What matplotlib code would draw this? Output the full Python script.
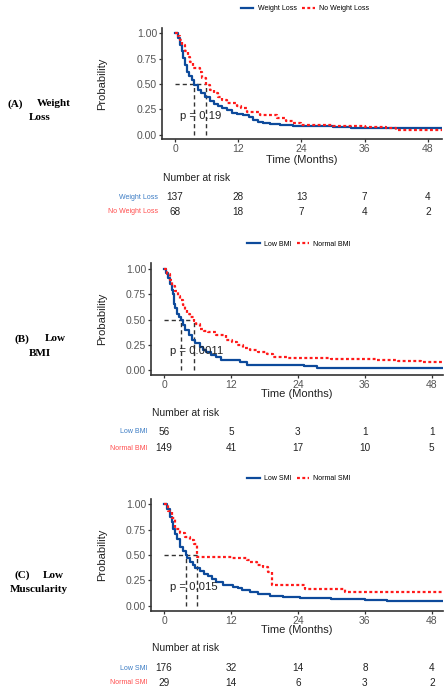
import matplotlib
matplotlib.use("Agg")
import matplotlib.pyplot as plt
from matplotlib.lines import Line2D
from matplotlib.transforms import blended_transform_factory

plt.rcParams['font.family'] = ['Liberation Sans', 'DejaVu Sans']

# ---- data ----
time_ticks = [0, 12, 24, 36, 48]

# (A) weight loss
a_groups = ["Weight Loss", "No Weight Loss"]
a_t1 = [0, 0.5, 0.95, 1.3, 1.6, 1.9, 2.2, 2.7, 3.2, 3.7, 4.4, 5.0, 5.7, 6.6, 7.4, 8.2, 9.0,
        9.8, 10.8, 11.8, 13.0, 14.0, 14.9, 15.8, 16.8, 18.0, 19.9, 22.5, 24.0, 27, 30, 33.5, 50.7]
a_s1 = [1.0, 0.95, 0.885, 0.82, 0.754, 0.69, 0.62, 0.58, 0.54, 0.49, 0.44, 0.41, 0.377, 0.33,
        0.30, 0.28, 0.26, 0.246, 0.22, 0.21, 0.197, 0.18, 0.148, 0.13, 0.115, 0.11, 0.098,
        0.092, 0.09, 0.085, 0.08, 0.065, 0.065]
a_t2 = [0, 0.5, 0.95, 1.4, 1.9, 2.4, 2.8, 3.5, 4.7, 5.2, 5.8, 6.6, 7.4, 8.2, 9.0, 9.8, 11.7,
        12.6, 13.6, 16.1, 19.3, 21.0, 22.5, 24, 30, 36, 40, 42, 50.7]
a_s2 = [1.0, 0.97, 0.934, 0.88, 0.82, 0.77, 0.72, 0.656, 0.62, 0.56, 0.49, 0.44, 0.41, 0.377,
        0.34, 0.31, 0.28, 0.26, 0.23, 0.197, 0.164, 0.14, 0.115, 0.10, 0.09, 0.08, 0.065, 0.05, 0.05]
a_medians = [3.7, 5.8]
a_pval = "p = 0.19"
a_risk1 = [137, 28, 13, 7, 4]
a_risk2 = [68, 18, 7, 4, 2]

# (B) low BMI
b_groups = ["Low BMI", "Normal BMI"]
b_t1 = [0, 0.4, 0.8, 1.1, 1.4, 1.6, 1.8, 2.0, 2.3, 2.6, 3.0, 3.4, 3.8, 4.5, 5.0, 5.6, 6.4,
        7.0, 7.6, 8.5, 9.4, 10.3, 13.6, 14.8, 25.0, 27.4, 50]
b_s1 = [1.0, 0.96, 0.91, 0.85, 0.79, 0.75, 0.66, 0.62, 0.56, 0.53, 0.5, 0.45, 0.40, 0.35,
        0.30, 0.27, 0.23, 0.20, 0.18, 0.15, 0.13, 0.10, 0.08, 0.055, 0.04, 0.02, 0.02]
b_t2 = [0, 0.5, 1.1, 1.5, 2.0, 2.5, 2.9, 3.4, 3.8, 4.2, 4.7, 5.4, 5.8, 6.4, 7.1, 7.9, 9.4,
        11.2, 12.1, 13.0, 14.2, 15.4, 16.9, 18.4, 19.5, 22, 30, 38, 42, 46, 50]
b_s2 = [1.0, 0.95, 0.89, 0.83, 0.78, 0.73, 0.69, 0.65, 0.60, 0.56, 0.53, 0.49, 0.46, 0.41,
        0.39, 0.38, 0.35, 0.30, 0.28, 0.25, 0.22, 0.20, 0.18, 0.16, 0.13, 0.12, 0.11, 0.10,
        0.09, 0.08, 0.08]
b_medians = [3.0, 5.4]
b_pval = "p = 0.0011"
b_risk1 = [56, 5, 3, 1, 1]
b_risk2 = [149, 41, 17, 10, 5]

# (C) low muscularity
c_groups = ["Low SMI", "Normal SMI"]
c_t1 = [0, 0.5, 1.1, 1.4, 1.7, 2.0, 2.3, 2.9, 3.4, 3.9, 4.2, 4.7, 5.2, 5.6, 6.4, 7.1, 7.9,
        8.6, 9.4, 10.6, 12.4, 13.2, 13.9, 15.4, 16.9, 19.0, 21.4, 24.4, 27, 30, 33, 36, 40, 50]
c_s1 = [1.0, 0.95, 0.876, 0.82, 0.76, 0.71, 0.66, 0.58, 0.54, 0.50, 0.47, 0.435, 0.40, 0.37,
        0.34, 0.315, 0.29, 0.26, 0.23, 0.206, 0.19, 0.175, 0.157, 0.134, 0.114, 0.10, 0.092,
        0.082, 0.078, 0.07, 0.065, 0.06, 0.05, 0.05]
c_t2 = [0, 0.8, 1.4, 2.0, 2.9, 3.8, 4.7, 5.3, 5.85, 11.5, 12.1, 14.8, 15.4, 16.6, 17.8, 18.7,
        19.3, 25.2, 32.5, 50]
c_s2 = [1.0, 0.93, 0.86, 0.76, 0.72, 0.68, 0.647, 0.61, 0.48, 0.48, 0.467, 0.45, 0.435, 0.40,
        0.385, 0.33, 0.21, 0.17, 0.14, 0.14]
c_medians = [3.9, 5.85]
c_pval = "p = 0.015"
c_risk1 = [176, 32, 14, 8, 4]
c_risk2 = [29, 14, 6, 3, 2]

panel_labels = [["(A)", "Weight", "Loss"], ["(B)", "Low", "BMI"], ["(C)", "Low", "Muscularity"]]

# ---- layout in pixels (reference is 448 x 695) ----
W, H = 448, 695
BLUE = "#0D4A9B"
RED = "#FF1A1A"
BLUE_TXT = "#3C7CC4"
RED_TXT = "#FF4D4D"

layout = [
    dict(box=(162, 28, 442, 139), xlim=(-2.47, 50.7), ylim=(-0.04, 1.05), leg=(305, 9),
         xlab=160, nar=178, rows=(197, 212), lab_x=(7, 37, 29), lab_y=(104, 118)),
    dict(box=(151, 263, 443, 375), xlim=(-2.33, 50.0), ylim=(-0.046, 1.06), leg=(299, 244),
         xlab=394, nar=413, rows=(432, 448), lab_x=(14, 45, 29), lab_y=(339, 354)),
    dict(box=(151, 499, 443, 611), xlim=(-2.33, 50.0), ylim=(-0.05, 1.05), leg=(299, 479),
         xlab=630, nar=648, rows=(668, 683), lab_x=(14, 43, 10), lab_y=(575, 589)),
]

panels = [
    (a_groups, a_t1, a_s1, a_t2, a_s2, a_medians, a_pval, a_risk1, a_risk2),
    (b_groups, b_t1, b_s1, b_t2, b_s2, b_medians, b_pval, b_risk1, b_risk2),
    (c_groups, c_t1, c_s1, c_t2, c_s2, c_medians, c_pval, c_risk1, c_risk2),
]


def fx(px):
    return px / W


def fy(py):
    return 1 - py / H


fig = plt.figure(figsize=(W / 100, H / 100), dpi=100)

for i, (groups, t1, s1, t2, s2, meds, pval, risk1, risk2) in enumerate(panels):
    lay = layout[i]
    l, t, r, b = lay['box']
    ax = fig.add_axes([fx(l), fy(b), (r - l) / W, (b - t) / H])

    ax.step(t1, s1, where='post', color=BLUE, lw=1.6, zorder=3)
    ax.step(t2, s2, where='post', color=RED, lw=1.6, linestyle=(0, (1.3, 1.1)), zorder=3)

    # median survival lines
    ax.plot([0, max(meds)], [0.5, 0.5], color='#333333', lw=1.0, linestyle=(0, (3, 2.2)), zorder=2)
    for m in meds:
        ax.plot([m, m], [0, 0.5], color='#333333', lw=1.0, linestyle=(0, (3, 2.2)), zorder=2)

    ax.text(1.0, 0.19, pval, fontsize=8.2, color='#222222', ha='left', va='center', zorder=4)

    ax.set_xlim(*lay['xlim'])
    ax.set_ylim(*lay['ylim'])
    ax.set_xticks(time_ticks)
    ax.set_yticks([0, 0.25, 0.5, 0.75, 1.0])
    ax.set_yticklabels(["0.00", "0.25", "0.50", "0.75", "1.00"])
    ax.tick_params(labelsize=7.5, labelcolor='#555555', color='#333333', length=2.5, width=0.9, pad=1)
    for side in ['top', 'right']:
        ax.spines[side].set_visible(False)
    for side in ['left', 'bottom']:
        ax.spines[side].set_color('#333333')
        ax.spines[side].set_linewidth(1.2)

    fig.text(fx(102), fy((t + b) / 2), "Probability", rotation=90, fontsize=8,
             ha='center', va='center', color='#222222')
    fig.text(fx((l + r) / 2), fy(lay['xlab']), "Time (Months)", fontsize=8,
             ha='center', va='center', color='#222222')

    # legend on top
    handles = [Line2D([0], [0], color=BLUE, lw=1.6),
               Line2D([0], [0], color=RED, lw=1.6, linestyle=(0, (1.3, 1.1)))]
    fig.legend(handles, groups, loc='center', bbox_to_anchor=(fx(lay['leg'][0]), fy(lay['leg'][1])),
               ncol=2, frameon=False, fontsize=5, handlelength=1.8, handletextpad=0.6,
               columnspacing=0.8, borderpad=0)

    # number at risk table
    fig.text(fx(l + 1), fy(lay['nar']), "Number at risk", fontsize=7.4, ha='left', va='center',
             color='#222222')
    tr = blended_transform_factory(ax.transData, fig.transFigure)
    for row_y, risk, name, col in [(lay['rows'][0], risk1, groups[0], BLUE_TXT),
                                   (lay['rows'][1], risk2, groups[1], RED_TXT)]:
        fig.text(fx(l - 4), fy(row_y), name, fontsize=5, color=col, ha='right', va='center')
        for x, n in zip(time_ticks, risk):
            ax.text(x, fy(row_y), str(n), transform=tr, fontsize=7.2, ha='center', va='center',
                    color='#222222', clip_on=False)

    # panel label
    words = panel_labels[i]
    lx = lay['lab_x']
    ly = lay['lab_y']
    fig.text(fx(lx[0]), fy(ly[0]), words[0], fontsize=8, fontweight='bold',
             family='Liberation Serif', ha='left', va='center')
    fig.text(fx(lx[1]), fy(ly[0]), words[1], fontsize=8, fontweight='bold',
             family='Liberation Serif', ha='left', va='center')
    fig.text(fx(lx[2]), fy(ly[1]), words[2], fontsize=8, fontweight='bold',
             family='Liberation Serif', ha='left', va='center')

fig.savefig("out.png", dpi=100)
